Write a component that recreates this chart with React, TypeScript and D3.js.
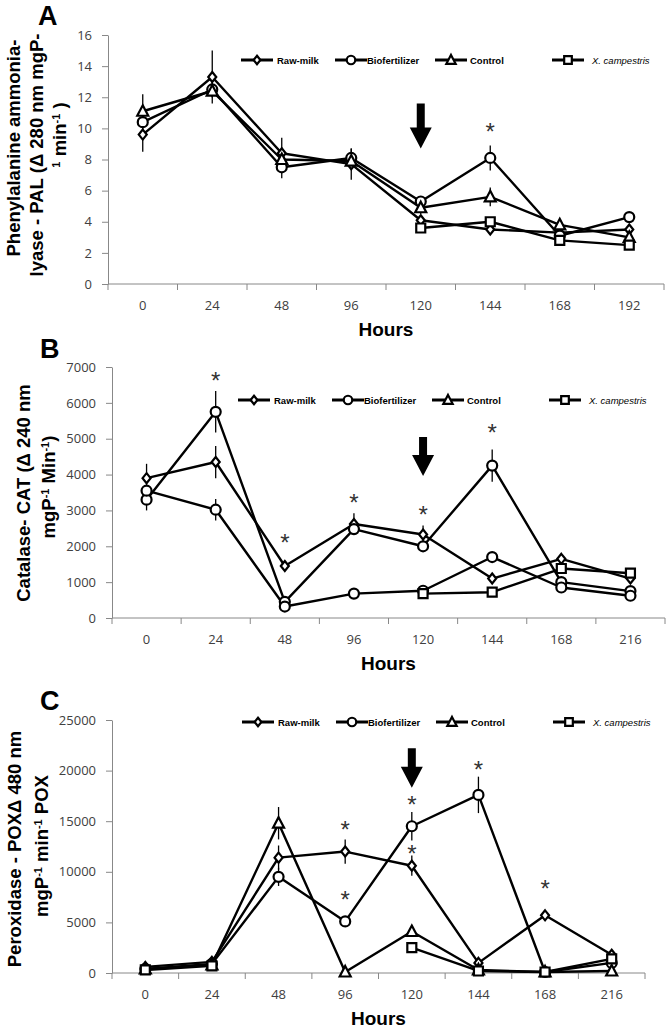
import React, { useEffect, useRef } from 'react';
import * as d3 from 'd3';

// Categories (hours)
const hoursA = ['0', '24', '48', '96', '120', '144', '168', '192'];
const hoursBC = ['0', '24', '48', '96', '120', '144', '168', '216'];
const seriesNames = ['Raw-milk', 'Biofertilizer', 'Control', 'X. campestris'];

// A - PAL
const palTicks = [0, 2, 4, 6, 8, 10, 12, 14, 16];
const palRawMilk = [9.6, 13.3, 8.4, 7.7, 4.1, 3.5, 3.3, 3.5];
const palRawMilkErr = [1.1, 1.7, 1.0, 1.0, 0.3, 0.2, 0.2, 0.2];
const palBiofertilizer = [10.4, 12.5, 7.5, 8.1, 5.3, 8.1, 3.1, 4.3];
const palBiofertilizerErr = [0.4, 0.5, 0.7, 0.6, 0.3, 0.8, 0.2, 0.2];
const palControl = [11.1, 12.4, 8.0, 7.9, 4.9, 5.6, 3.8, 3.0];
const palControlErr = [1.1, 0.4, 0.4, 0.4, 0.4, 0.6, 0.2, 0.2];
const palXcampestris = [null, null, null, null, 3.6, 4.0, 2.8, 2.5];
const palXcampestrisErr = [0, 0, 0, 0, 0.2, 0.3, 0.2, 0.2];
const palStars = [{ hour: '144', value: 10.1 }];
const palArrow = { hour: '120', from: 11.6, to: 8.7 };

// B - CAT
const catTicks = [0, 1000, 2000, 3000, 4000, 5000, 6000, 7000];
const catRawMilk = [3900, 4350, 1450, 2620, 2330, 1100, 1650, 1100];
const catRawMilkErr = [400, 450, 100, 300, 250, 100, 100, 100];
const catBiofertilizer = [3300, 5750, 450, 2480, 2000, 4250, 1000, 750];
const catBiofertilizerErr = [300, 580, 100, 150, 100, 450, 100, 80];
const catControl = [3550, 3020, 320, 680, 760, 1700, 850, 620];
const catControlErr = [150, 300, 80, 80, 80, 100, 80, 80];
const catXcampestris = [null, null, null, null, 680, 720, 1380, 1250];
const catXcampestrisErr = [0, 0, 0, 0, 60, 60, 100, 100];
const catStars = [
  { hour: '24', value: 6750 },
  { hour: '48', value: 2230 },
  { hour: '96', value: 3350 },
  { hour: '120', value: 3010 },
  { hour: '144', value: 5300 },
];
const catArrow = { hour: '120', from: 5050, to: 3960 };

// C - POX
const poxTicks = [0, 5000, 10000, 15000, 20000, 25000];
const poxRawMilk = [600, 1100, 11400, 12000, 10600, 1000, 5700, 1800];
const poxRawMilkErr = [100, 200, 1200, 1200, 1000, 200, 300, 200];
const poxBiofertilizer = [400, 900, 9500, 5100, 14500, 17600, 100, 1000];
const poxBiofertilizerErr = [100, 200, 900, 300, 1400, 1800, 50, 200];
const poxControl = [400, 800, 14800, 100, 4100, 300, 100, 200];
const poxControlErr = [100, 200, 1600, 50, 300, 100, 50, 50];
const poxXcampestris = [300, 700, null, null, 2500, 200, 100, 1400];
const poxXcampestrisErr = [50, 100, 0, 0, 200, 50, 50, 150];
const poxStars = [
  { hour: '96', value: 14600 },
  { hour: '96', value: 7700 },
  { hour: '120', value: 17100 },
  { hour: '120', value: 12250 },
  { hour: '144', value: 20550 },
  { hour: '168', value: 8800 },
];
const poxArrow = { hour: '120', from: 22200, to: 18300 };

const titleFont = '"Liberation Sans", Arial, sans-serif';
const tickFont = '"Open Sans", "Noto Sans", sans-serif';
const axisColor = '#888';

const panels = [
  {
    letter: 'A', letterX: 38, letterY: 25,
    left: 108, right: 664, top: 35, bottom: 284, max: 16,
    hours: hoursA, ticks: palTicks,
    series: [palRawMilk, palBiofertilizer, palControl, palXcampestris],
    errors: [palRawMilkErr, palBiofertilizerErr, palControlErr, palXcampestrisErr],
    markers: ['diamond', 'circle', 'triangle', 'square'],
    stars: palStars, arrow: palArrow,
    legendY: 60, legendShift: 0,
    title: [
      { x: 14, y: 148, parts: [{ t: 'Phenylalanine ammonia-' }] },
      { x: 37, y: 155, parts: [{ t: 'lyase - PAL (Δ 280 nm mgP-' }] },
      { x: 60, y: 135, parts: [{ t: '1', sup: true }, { t: ' min' }, { t: '-1', sup: true }, { t: ' )' }] },
    ],
  },
  {
    letter: 'B', letterX: 40, letterY: 358,
    left: 112, right: 665, top: 367, bottom: 618, max: 7000,
    hours: hoursBC, ticks: catTicks,
    series: [catRawMilk, catBiofertilizer, catControl, catXcampestris],
    errors: [catRawMilkErr, catBiofertilizerErr, catControlErr, catXcampestrisErr],
    markers: ['diamond', 'circle', 'circle', 'square'],
    stars: catStars, arrow: catArrow,
    legendY: 400, legendShift: -3,
    title: [
      { x: 24, y: 493, parts: [{ t: 'Catalase- CAT  (Δ 240 nm' }] },
      { x: 49, y: 487, parts: [{ t: 'mgP' }, { t: '-1', sup: true }, { t: ' Min' }, { t: '-1', sup: true }, { t: ')' }] },
    ],
  },
  {
    letter: 'C', letterX: 40, letterY: 710,
    left: 112, right: 645, top: 720, bottom: 973, max: 25000,
    hours: hoursBC, ticks: poxTicks,
    series: [poxRawMilk, poxBiofertilizer, poxControl, poxXcampestris],
    errors: [poxRawMilkErr, poxBiofertilizerErr, poxControlErr, poxXcampestrisErr],
    markers: ['diamond', 'circle', 'triangle', 'square'],
    stars: poxStars, arrow: poxArrow,
    legendY: 722, legendShift: 1,
    title: [
      { x: 15, y: 849, parts: [{ t: 'Peroxidase - POXΔ 480 nm' }] },
      { x: 42, y: 846, parts: [{ t: 'mgP' }, { t: '-1', sup: true }, { t: ' min' }, { t: '-1', sup: true }, { t: '  POX' }] },
    ],
  },
];

const drawMarker = (g, type, x, y, s = 1) => {
  const m = g.append(type === 'circle' ? 'circle' : 'path')
    .attr('fill', '#fff')
    .attr('stroke', '#000')
    .attr('stroke-width', 2.2);
  if (type === 'circle') {
    m.attr('cx', x).attr('cy', y).attr('r', 5 * s);
  } else if (type === 'diamond') {
    m.attr('d', `M${x},${y - 5 * s}L${x + 4 * s},${y}L${x},${y + 5 * s}L${x - 4 * s},${y}Z`);
  } else if (type === 'triangle') {
    m.attr('d', `M${x},${y - 6 * s}L${x + 5.5 * s},${y + 4.5 * s}L${x - 5.5 * s},${y + 4.5 * s}Z`);
  } else {
    m.attr('d', `M${x - 4.5 * s},${y - 4.5 * s}h${9 * s}v${9 * s}h${-9 * s}Z`);
  }
};

const drawPanel = (svg, p) => {
  const x = d3.scaleBand().domain(p.hours).range([p.left, p.right]).padding(0);
  const y = d3.scaleLinear().domain([0, p.max]).range([p.bottom, p.top]);
  const cx = h => x(h) + x.bandwidth() / 2;
  const g = svg.append('g');

  // panel letter
  g.append('text')
    .attr('x', p.letterX).attr('y', p.letterY)
    .style('font-family', titleFont).style('font-weight', 'bold').style('font-size', '27px')
    .text(p.letter);

  // y axis
  const yAxis = g.append('g')
    .attr('transform', `translate(${p.left},0)`)
    .call(d3.axisLeft(y)
      .tickValues(p.ticks)
      .tickFormat(d3.format('d'))
      .tickSize(6)
      .tickSizeOuter(0)
      .tickPadding(10));
  yAxis.select('.domain').attr('stroke', axisColor);
  yAxis.selectAll('.tick line').attr('stroke', axisColor);
  yAxis.selectAll('.tick text')
    .style('font-family', tickFont).style('font-size', '13px').attr('fill', '#404040');

  // x axis with ticks between categories
  g.append('line')
    .attr('x1', p.left).attr('x2', p.right)
    .attr('y1', p.bottom).attr('y2', p.bottom)
    .attr('stroke', axisColor);
  d3.range(p.hours.length + 1).forEach(i => {
    const tx = p.left + i * x.step();
    g.append('line')
      .attr('x1', tx).attr('x2', tx)
      .attr('y1', p.bottom).attr('y2', p.bottom + 6)
      .attr('stroke', axisColor);
  });
  p.hours.forEach(h => {
    g.append('text')
      .attr('x', cx(h)).attr('y', p.bottom + 26)
      .attr('text-anchor', 'middle')
      .style('font-family', tickFont).style('font-size', '13px').attr('fill', '#404040')
      .text(h);
  });
  g.append('text')
    .attr('x', (p.left + p.right) / 2).attr('y', p.bottom + 52)
    .attr('text-anchor', 'middle')
    .style('font-family', titleFont).style('font-weight', 'bold').style('font-size', '19px')
    .text('Hours');

  // y axis title
  p.title.forEach(line => {
    const t = g.append('text')
      .attr('transform', `translate(${line.x},${line.y}) rotate(-90)`)
      .attr('text-anchor', 'middle')
      .attr('dy', '0.35em')
      .style('font-family', titleFont).style('font-weight', 'bold').style('font-size', '18.5px');
    line.parts.forEach(part => {
      const s = t.append('tspan').text(part.t);
      if (part.sup) s.attr('baseline-shift', 'super').style('font-size', '11px');
    });
  });

  // series lines
  const line = d3.line()
    .defined(d => d[1] != null)
    .x(d => cx(d[0]))
    .y(d => y(d[1]));
  p.series.forEach(values => {
    g.append('path')
      .datum(p.hours.map((h, i) => [h, values[i]]))
      .attr('fill', 'none')
      .attr('stroke', '#000')
      .attr('stroke-width', 2.4)
      .attr('stroke-linejoin', 'round')
      .attr('d', line);
  });

  // error bars
  p.series.forEach((values, si) => {
    values.forEach((v, i) => {
      const e = p.errors[si][i];
      if (v == null || !e) return;
      g.append('line')
        .attr('x1', cx(p.hours[i])).attr('x2', cx(p.hours[i]))
        .attr('y1', y(v - e)).attr('y2', y(v + e))
        .attr('stroke', '#000').attr('stroke-width', 1.3);
    });
  });

  // markers
  p.series.forEach((values, si) => {
    values.forEach((v, i) => {
      if (v == null) return;
      drawMarker(g, p.markers[si], cx(p.hours[i]), y(v));
    });
  });

  // significance stars
  p.stars.forEach(s => {
    g.append('text')
      .attr('x', cx(s.hour)).attr('y', y(s.value) + 13)
      .attr('text-anchor', 'middle')
      .style('font-family', titleFont).style('font-size', '24px').attr('fill', '#333')
      .text('*');
  });

  // arrow
  const ax = cx(p.arrow.hour);
  const ay0 = y(p.arrow.from);
  const ay1 = y(p.arrow.to);
  const headLen = 21;
  g.append('path')
    .attr('d', `M${ax - 4},${ay0}H${ax + 4}V${ay1 - headLen}H${ax + 11}L${ax},${ay1}L${ax - 11},${ay1 - headLen}H${ax - 4}Z`)
    .attr('fill', '#000');

  // legend
  const legendMarkers = ['diamond', 'circle', 'triangle', 'square'];
  const legendX = [257, 351, 451, 568];
  const textX = [277, 367, 470, 592];
  seriesNames.forEach((name, i) => {
    const mx = legendX[i] + p.legendShift;
    g.append('line')
      .attr('x1', mx - 16).attr('x2', mx + 16)
      .attr('y1', p.legendY).attr('y2', p.legendY)
      .attr('stroke', '#000').attr('stroke-width', 3);
    drawMarker(g, legendMarkers[i], mx, p.legendY, 0.85);
    const italic = name === 'X. campestris';
    g.append('text')
      .attr('x', textX[i] + p.legendShift).attr('y', p.legendY + 3.5)
      .style('font-family', titleFont)
      .style('font-size', '9.5px')
      .style('font-weight', italic ? 'normal' : 'bold')
      .style('font-style', italic ? 'italic' : 'normal')
      .text(name);
  });
};

const App = () => {
  const svgRef = useRef(null);

  useEffect(() => {
    const svg = d3.select(svgRef.current);
    svg.selectAll('*').remove();
    panels.forEach(p => drawPanel(svg, p));
  }, []);

  return (
    <div style={{ position: 'absolute', left: 0, top: 0, background: '#fff' }}>
      <svg ref={svgRef} width={666} height={1029} style={{ display: 'block' }}></svg>
    </div>
  );
};

export default App;
